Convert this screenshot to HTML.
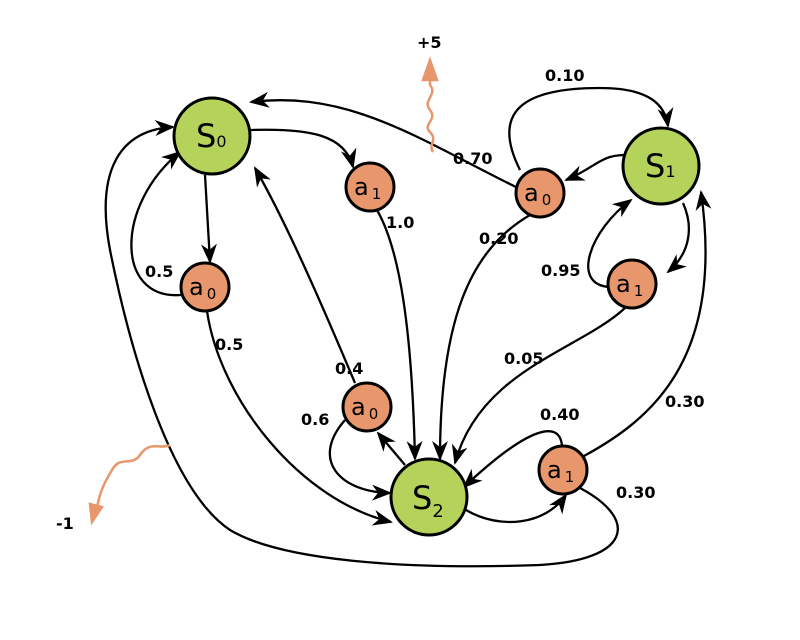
<!DOCTYPE html>
<html><head><meta charset="utf-8"><style>body{margin:0;background:#fff}svg{display:block}</style></head><body>
<svg width="800" height="640" viewBox="0 0 800 640" xmlns="http://www.w3.org/2000/svg" font-family="DejaVu Sans, Liberation Sans, sans-serif">
<defs>
<marker id="ar" viewBox="0 0 20 16" refX="18" refY="8" markerWidth="20" markerHeight="16" orient="auto" markerUnits="userSpaceOnUse">
<path d="M0,0 L20,8 L0,16 L6,8 Z" fill="#000"/>
</marker>
</defs>
<g fill="none" stroke="#000" stroke-width="2.3">
<path d="M250,130 C310,128 345,135 353,167" marker-end="url(#ar)"/>
<path d="M205,175 L210,262" marker-end="url(#ar)"/>
<path d="M181,295 C115,300 115,205 180,152" marker-end="url(#ar)"/>
<path d="M377,210 C400,250 412,330 415,459" marker-end="url(#ar)"/>
<path d="M207,311 C220,400 300,500 391,522" marker-end="url(#ar)"/>
<path d="M355,383 C320,300 285,220 255,168" marker-end="url(#ar)"/>
<path d="M345,420 C310,460 340,492 390,493" marker-end="url(#ar)"/>
<path d="M405,465 L378,433" marker-end="url(#ar)"/>
<path d="M518,188 C420,140 350,90 251,102" marker-end="url(#ar)"/>
<path d="M520,170 C490,110 525,88 600,88 C650,88 665,105 668,126" marker-end="url(#ar)"/>
<path d="M530,215 C470,250 440,320 440,459" marker-end="url(#ar)"/>
<path d="M625,155 C600,155 595,168 566,180" marker-end="url(#ar)"/>
<path d="M683,203 C695,230 688,255 668,272" marker-end="url(#ar)"/>
<path d="M610,287 C570,285 590,230 631,200" marker-end="url(#ar)"/>
<path d="M625,308 C580,350 480,370 455,463" marker-end="url(#ar)"/>
<path d="M466,510 C500,530 545,525 566,495" marker-end="url(#ar)"/>
<path d="M562,446 C560,420 530,425 464,487" marker-end="url(#ar)"/>
<path d="M584,456 C650,420 725,360 701,192" marker-end="url(#ar)"/>
<path d="M580,488 C640,520 630,560 540,565 C400,570 280,560 230,530 C170,490 130,350 110,250 C95,170 120,130 173,127" marker-end="url(#ar)"/>
</g>
<g fill="none" stroke="#e8966b" stroke-width="2.5">
<path d="M433,152 C428,145 438,140 430,132 C422,124 438,120 430,110 C422,100 438,95 430,85 L430,72"/>
<path d="M423,80 L430,60 L437,80 Z" fill="#e8966b"/>
<path d="M170,445 C160,450 150,440 140,455 C132,467 120,455 112,470 C106,480 100,490 97,508"/>
<path d="M90,504 L92,522 L102,507 Z" fill="#e8966b"/>
</g>
<g stroke="#000" stroke-width="3">
<circle cx="212" cy="136" r="38" fill="#b5d35b"/>
<circle cx="661" cy="166" r="38" fill="#b5d35b"/>
<circle cx="429" cy="497" r="38" fill="#b5d35b"/>
<g fill="#e8966b">
<circle cx="370" cy="187" r="24"/>
<circle cx="540" cy="193" r="24"/>
<circle cx="205" cy="287" r="24"/>
<circle cx="632" cy="284" r="24"/>
<circle cx="367" cy="407" r="24"/>
<circle cx="563" cy="470" r="24"/>
</g>
</g>
<g fill="#000">
<text x="196" y="147" font-size="32">S<tspan font-size="16" dy="0">0</tspan></text>
<text x="645" y="177" font-size="32">S<tspan font-size="16">1</tspan></text>
<text x="412" y="509" font-size="32">S<tspan font-size="18" dy="8">2</tspan></text>
<g font-size="24">
<text x="354" y="195">a<tspan font-size="15" dx="3" dy="4">1</tspan></text>
<text x="524" y="201">a<tspan font-size="15" dx="3" dy="4">0</tspan></text>
<text x="189" y="295">a<tspan font-size="15" dx="3" dy="4">0</tspan></text>
<text x="616" y="292">a<tspan font-size="15" dx="3" dy="4">1</tspan></text>
<text x="351" y="415">a<tspan font-size="15" dx="3" dy="4">0</tspan></text>
<text x="547" y="478">a<tspan font-size="15" dx="3" dy="4">1</tspan></text>
</g>
<g font-size="16" font-weight="bold">
<text x="545" y="81">0.10</text>
<text x="453" y="164">0.70</text>
<text x="479" y="244">0.20</text>
<text x="386" y="228">1.0</text>
<text x="145" y="277">0.5</text>
<text x="215" y="350">0.5</text>
<text x="541" y="276">0.95</text>
<text x="504" y="364">0.05</text>
<text x="335" y="374">0.4</text>
<text x="301" y="425">0.6</text>
<text x="540" y="420">0.40</text>
<text x="665" y="407">0.30</text>
<text x="616" y="498">0.30</text>
<text x="417" y="48">+5</text>
<text x="56" y="529">-1</text>
</g>
</g>
</svg>
</body></html>
